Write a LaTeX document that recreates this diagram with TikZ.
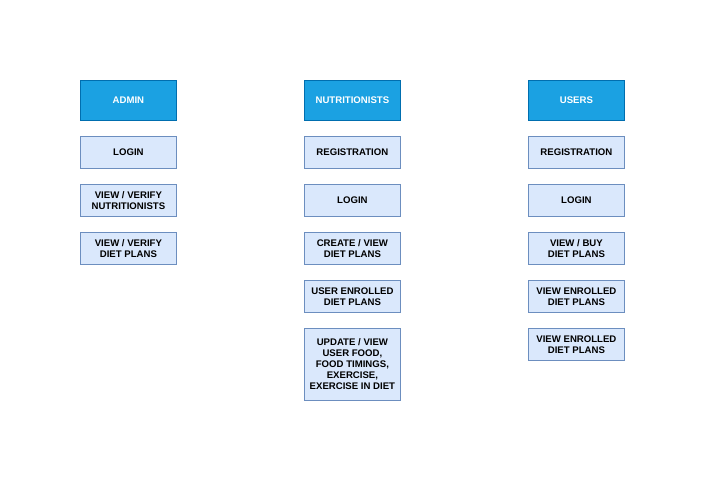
\documentclass[tikz,border=0pt]{standalone}
\usepackage{fontspec}
\setmainfont{Liberation Sans}
\definecolor{hdrfill}{HTML}{1BA1E2}
\definecolor{hdrline}{HTML}{006EAF}
\definecolor{boxfill}{HTML}{DAE8FC}
\definecolor{boxline}{HTML}{6C8EBF}
\begin{document}
\begin{tikzpicture}[x=1pt,y=-1pt,
  base/.style={anchor=north west, minimum width=96pt, inner sep=0pt, align=center, font=\fontsize{9.6}{11}\selectfont\bfseries, line width=0.8pt},
  hdr/.style={base, draw=hdrline, fill=hdrfill, text=white, minimum height=40pt},
  item/.style={base, draw=boxline, fill=boxfill, text=black, minimum height=32pt},
  tall/.style={item, minimum height=72pt}]
\useasboundingbox (0,0) rectangle (705,480);
% Admin
\node[hdr] (admin) at (80,80) {ADMIN};
\node[item] (a1) at (80,136) {LOGIN};
\node[item] (a2) at (80,184) {VIEW / VERIFY\\NUTRITIONISTS};
\node[item] (a3) at (80,232) {VIEW / VERIFY\\DIET PLANS};
% Nutritionists
\node[hdr] (nut) at (304,80) {NUTRITIONISTS};
\node[item] (n1) at (304,136) {REGISTRATION};
\node[item] (n2) at (304,184) {LOGIN};
\node[item] (n3) at (304,232) {CREATE / VIEW\\DIET PLANS};
\node[item] (n4) at (304,280) {USER ENROLLED\\DIET PLANS};
\node[tall] (n5) at (304,328) {UPDATE / VIEW\\USER FOOD,\\FOOD TIMINGS,\\EXERCISE,\\EXERCISE IN DIET};
% Users
\node[hdr] (usr) at (528,80) {USERS};
\node[item] (u1) at (528,136) {REGISTRATION};
\node[item] (u2) at (528,184) {LOGIN};
\node[item] (u3) at (528,232) {VIEW / BUY\\DIET PLANS};
\node[item] (u4) at (528,280) {VIEW ENROLLED\\DIET PLANS};
\node[item] (u5) at (528,328) {VIEW ENROLLED\\DIET PLANS};
\end{tikzpicture}
\end{document}
